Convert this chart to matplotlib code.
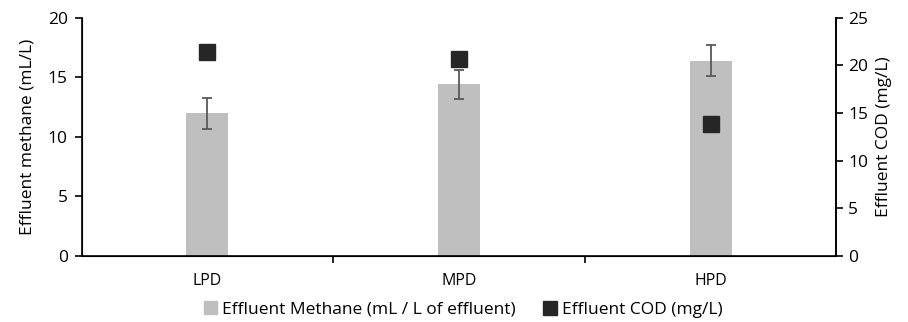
import matplotlib
matplotlib.use('Agg')

import matplotlib.pyplot as plt
import numpy as np
from matplotlib.patches import Patch
from matplotlib.lines import Line2D

plt.rcParams['font.family'] = ['Open Sans', 'DejaVu Sans']

categories = ['LPD', 'MPD', 'HPD']
methane = [12.0, 14.4, 16.4]
methane_err = [1.3, 1.25, 1.3]
cod = [21.4, 20.7, 13.8]

x = np.arange(len(categories))

fig, ax = plt.subplots(figsize=(9.08, 3.22), dpi=100)
fig.subplots_adjust(left=0.09, right=0.921, top=0.945, bottom=0.205)

ax.bar(x, methane, width=0.167, color='#bfbfbf', yerr=methane_err,
       error_kw=dict(ecolor='#595959', elinewidth=1.3, capsize=3.5, capthick=1.3),
       zorder=2)
ax.set_xlim(-0.5, 2.5)
ax.set_ylim(0, 20)
ax.set_yticks([0, 5, 10, 15, 20])
ax.set_xticks(x)
ax.set_xticklabels(categories)
ax.set_xticks([0.5, 1.5], minor=True)
ax.tick_params(axis='x', which='major', length=0, labelsize=11.5, pad=12)
ax.tick_params(axis='x', which='minor', length=5, width=1.2, direction='out')
ax.tick_params(axis='y', labelsize=12.5, length=5, width=1.2, pad=5)
ax.set_ylabel('Effluent methane (mL/L)', fontsize=12.5, labelpad=9)
ax.spines['top'].set_visible(False)
for s in ['left', 'bottom', 'right']:
    ax.spines[s].set_linewidth(1.2)

ax2 = ax.twinx()
ax2.plot(x, cod, linestyle='none', marker='s', markersize=11, color='#262626', zorder=3)
ax2.set_ylim(0, 25)
ax2.set_yticks([0, 5, 10, 15, 20, 25])
ax2.tick_params(axis='y', labelsize=12.5, length=5, width=1.2)
ax2.set_ylabel('Effluent COD (mg/L)', fontsize=12.5, labelpad=6)
ax2.spines['top'].set_visible(False)
ax2.spines['right'].set_linewidth(1.2)

handles = [Patch(color='#bfbfbf'),
           Line2D([], [], linestyle='none', marker='s', markersize=10, color='#262626')]
labels = ['Effluent Methane (mL / L of effluent)', 'Effluent COD (mg/L)']
fig.legend(handles, labels, loc='lower center', ncol=2, frameon=False,
           fontsize=12.5, bbox_to_anchor=(0.51, -0.035), handlelength=0.75,
           handletextpad=0.3, columnspacing=1.6)

plt.savefig('out.png')
